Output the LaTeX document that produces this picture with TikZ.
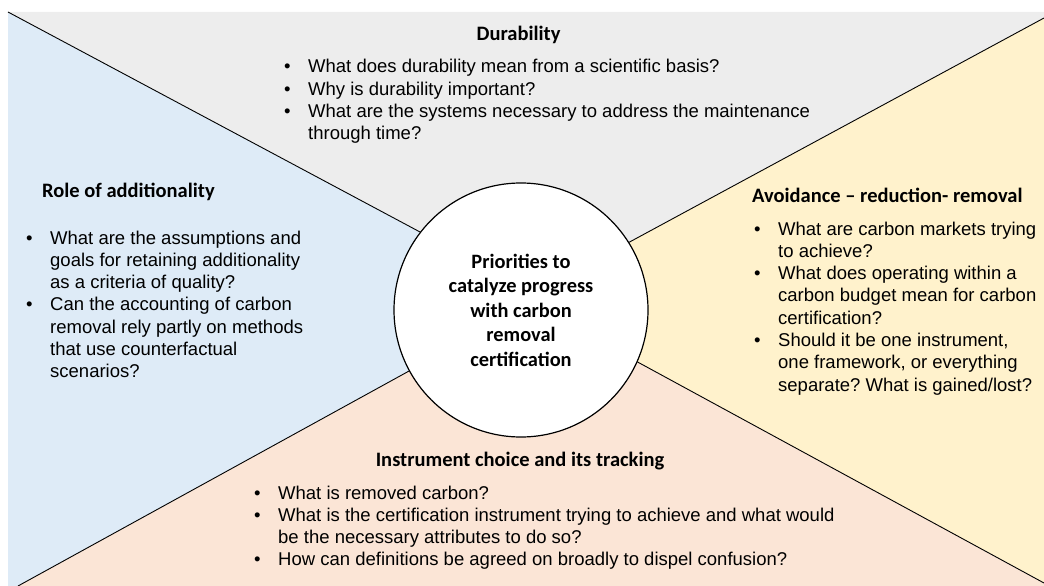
\documentclass[tikz,border=0pt]{standalone}
\usepackage{fontspec}
\setmainfont{Liberation Sans}
\newfontfamily\headfont{Carlito}
\usepackage{array}
\usetikzlibrary{positioning}
\frenchspacing

\definecolor{durgray}{HTML}{EDEDED}
\definecolor{addblue}{HTML}{DEEBF7}
\definecolor{avoidyellow}{HTML}{FFF2CC}
\definecolor{instpeach}{HTML}{FBE5D6}

\newcommand{\qlist}[1]{\fontsize{18.5}{22.3}\selectfont\begin{tabular}[t]{@{}p{24pt}@{}l@{}}#1\end{tabular}}

\begin{document}
\begin{tikzpicture}[x=1pt, y=-1pt,
		edge/.style={draw=black, line width=0.9pt},
		headtitle/.style={inner sep=0pt, font=\headfont\bfseries\fontsize{20.5}{24.5}\selectfont},
		qbox/.style={inner sep=0pt, anchor=base west},
		hub/.style={circle, draw, fill=white, line width=1.2pt, minimum size=254pt, inner sep=0pt, align=center, font=\headfont\bfseries\fontsize{20.4}{24.5}\selectfont}]
	\useasboundingbox (0,0) rectangle (1044,586);
	
	\coordinate (tl) at (8,12);
	\coordinate (tr) at (1044,18);
	\coordinate (bl) at (18,586);
	\coordinate (br) at (1044,583);
	\coordinate (tlc) at (450,248);
	\coordinate (trc) at (600,258);
	\coordinate (blc) at (440,354);
	\coordinate (brc) at (610,347);
	\coordinate (mid) at (521,300);
	
	\fill[durgray] (tl) -- (1044,12) -- (tr) -- (trc) -- (mid) -- (tlc) -- cycle;
	\fill[avoidyellow] (tr) -- (br) -- (brc) -- (mid) -- (trc) -- cycle;
	\fill[instpeach] (bl) -- (1044,586) -- (br) -- (brc) -- (mid) -- (blc) -- cycle;
	\fill[addblue] (tl) -- (tlc) -- (mid) -- (blc) -- (bl) -- (8,586) -- cycle;
	
	\draw[edge] (tl) -- (tlc);
	\draw[edge] (tr) -- (trc);
	\draw[edge] (bl) -- (blc);
	\draw[edge] (br) -- (brc);
	
	\node[hub] (hub) at (521,310) {Priorities to\\catalyze progress\\with carbon\\removal\\certification};
	
	\node[headtitle, anchor=base] (durT) at (518.5,41) {Durability};
	\node[qbox] (durQ) at (284,73) {\qlist{
			\textbullet & What does durability mean from a scientific basis?\\
			\textbullet & Why is durability important?\\
			\textbullet & What are the systems necessary to address the maintenance\\
			& through time?}};
	
	\node[headtitle, anchor=base west] (addT) at (42,197) {Role of additionality};
	\node[qbox] (addQ) at (26,244) {\qlist{
			\textbullet & What are the assumptions and\\
			& goals for retaining additionality\\
			& as a criteria of quality?\\
			\textbullet & Can the accounting of carbon\\
			& removal rely partly on methods\\
			& that use counterfactual\\
			& scenarios?}};
	
	\node[headtitle, anchor=base west] (avoT) at (752,202) {Avoidance – reduction- removal};
	\node[qbox] (avoQ) at (754,235) {\qlist{
			\textbullet & What are carbon markets trying\\
			& to achieve?\\
			\textbullet & What does operating within a\\
			& carbon budget mean for carbon\\
			& certification?\\
			\textbullet & Should it be one instrument,\\
			& one framework, or everything\\
			& separate? What is gained/lost?}};
	
	\node[headtitle, anchor=base] (insT) at (520,466) {Instrument choice and its tracking};
	\node[qbox] (insQ) at (254,499) {\qlist{
			\textbullet & What is removed carbon?\\
			\textbullet & What is the certification instrument trying to achieve and what would\\
			& be the necessary attributes to do so?\\
			\textbullet & How can definitions be agreed on broadly to dispel confusion?}};
\end{tikzpicture}
\end{document}
